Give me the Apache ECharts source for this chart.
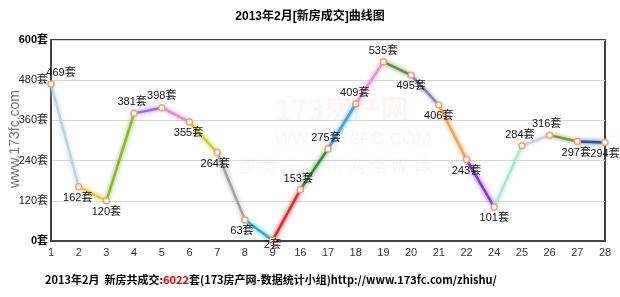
<!DOCTYPE html>
<html>
<head>
<meta charset="utf-8">
<script src="https://cdn.jsdelivr.net/npm/echarts@6/dist/echarts.min.js"></script>
<style>
  html, body { margin: 0; padding: 0; background: #fff; }
  #chart { width: 620px; height: 297px; }
</style>
</head>
<body>
<div id="chart"></div>
<script>
// 2013年2月 每日新房成交套数
const days = ['1', '2', '3', '4', '5', '6', '7', '8', '9', '16', '17', '18', '19', '20', '21', '22', '24', '25', '26', '27', '28'];
const sales = [469, 162, 120, 381, 398, 355, 264, 63, 2, 153, 275, 409, 535, 495, 406, 243, 101, 284, 316, 297, 294];
const yTicks = [0, 120, 240, 360, 480, 600];

// colour of each segment, from day i to day i+1
const segColors = ['#b9d3e6', '#f2c443', '#8ab72a', '#9b6fe3', '#e389cb', '#c9d024', '#a3a3a3', '#22b3c9',
  '#e62222', '#3b8b3b', '#3fa1e3', '#ea92c9', '#6b8c41', '#8a82b3', '#f2a444', '#8b33e3', '#a3e8d1',
  '#c9c9e1', '#7b9b31', '#3152a2'];

// where each value label sits
const labelPos = ['top', 'bottom', 'bottom', 'top', 'top', 'bottom', 'bottom', 'bottom', 'bottom', 'top', 'top',
  'top', 'top', 'bottom', 'bottom', 'bottom', 'bottom', 'top', 'top', 'bottom', 'bottom'];
const labelDx = [10, -1, 0, -2, 0, -1, -2, -3, 0, -2, -2, -1, 0, 0, 0, 0, 0, -2, -3, -1, 0];

const chart = echarts.init(document.getElementById('chart'));
const font = 'Liberation Sans, "Noto Sans CJK SC", sans-serif';

const segSeries = segColors.map((c, i) => ({
  type: 'line',
  data: sales.map((v, j) => (j === i || j === i + 1 ? v : null)),
  symbol: 'none',
  connectNulls: false,
  lineStyle: { color: c, width: 2.5, shadowColor: c, shadowBlur: 4 },
  z: 2,
  silent: true
}));

chart.setOption({
  animation: false,
  title: {
    text: '2013年2月[新房成交]曲线图',
    left: 'center',
    top: 6,
    textStyle: { fontSize: 12, fontWeight: 'bold', color: '#000', fontFamily: font }
  },
  grid: {
    left: 51, right: 15, top: 40, bottom: 56,
    show: true, borderColor: '#444', borderWidth: 2
  },
  xAxis: {
    type: 'category',
    data: days,
    boundaryGap: false,
    axisLine: { lineStyle: { color: '#444', width: 2 } },
    axisTick: { show: false },
    axisLabel: { color: '#333', fontSize: 11, fontFamily: font, margin: 6 }
  },
  yAxis: {
    type: 'value',
    min: yTicks[0],
    max: yTicks[yTicks.length - 1],
    interval: 120,
    axisLine: { show: true, lineStyle: { color: '#444', width: 2 } },
    splitLine: { lineStyle: { color: '#d6d6d6' } },
    axisLabel: {
      fontSize: 11, color: '#222', fontFamily: font, margin: 3,
      formatter: v => (v === 0 || v === 600 ? '{b|' + v + '套}' : v + '套'),
      rich: { b: { fontWeight: 'bold', fontSize: 11, color: '#000', fontFamily: font } }
    }
  },
  graphic: [
    {
      type: 'text', left: 8, top: 90, rotation: Math.PI / 2,
      style: { text: 'www.173fc.com', fontSize: 14, fill: '#777', font: '14px Liberation Sans' }
    },
    {
      type: 'group', left: 215, top: 95, silent: true,
      children: [
        { type: 'text', left: 60, top: 0, style: { text: '173房产网', font: 'bold 28px "Noto Sans CJK SC"', fill: 'rgba(230,120,120,0.07)' } },
        { type: 'text', left: 60, top: 36, style: { text: 'WWW.173FC.COM', font: 'bold 18px Liberation Sans', fill: 'rgba(160,160,160,0.08)' } },
        { type: 'text', left: 0, top: 62, style: { text: '成 都 房 产 资 讯 网 络 媒 体', font: '18px "Noto Sans CJK SC"', fill: 'rgba(160,160,160,0.08)' } }
      ]
    },
    {
      type: 'text', left: 45, top: 274,
      style: {
        text: '2013年2月  新房共成交:{r|6022}套(173房产网-数据统计小组)http://www.173fc.com/zhishu/',
        font: 'bold 11px "Noto Sans CJK SC"', fill: '#000',
        rich: { r: { fill: '#e00000', font: 'bold 11px "Noto Sans CJK SC"' } }
      }
    }
  ],
  series: segSeries.concat([{
    type: 'line',
    data: sales.map((v, i) => ({
      value: v,
      label: { position: labelPos[i], offset: [labelDx[i], i === 8 ? -7 : 0] }
    })),
    symbol: 'circle',
    symbolSize: 6,
    itemStyle: { color: '#fff', borderColor: '#f0a070', borderWidth: 1.5 },
    lineStyle: { width: 0, opacity: 0 },
    label: {
      show: true, formatter: '{c}套', fontSize: 11, color: '#111', fontFamily: font, distance: 2
    },
    z: 5
  }])
});
</script>
</body>
</html>
